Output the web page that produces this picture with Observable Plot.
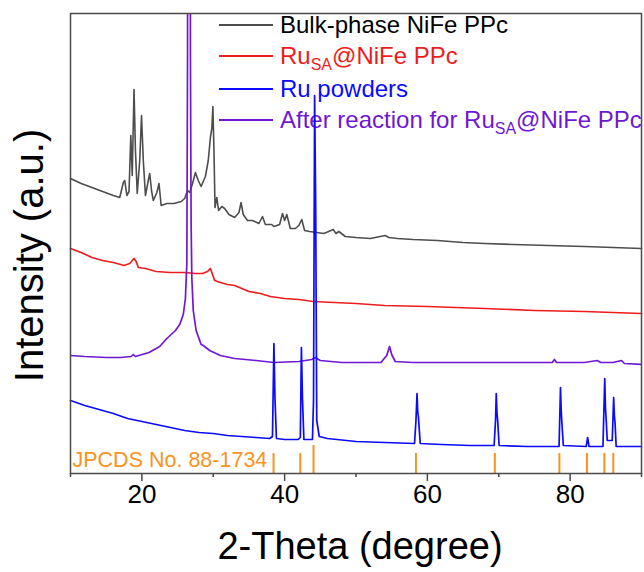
<!DOCTYPE html>
<html><head><meta charset="utf-8">
<script src="https://cdn.jsdelivr.net/npm/d3@7"></script>
<script src="https://cdn.jsdelivr.net/npm/@observablehq/plot@0.6"></script>
<style>
body{margin:0;background:#fff;font-family:"Liberation Sans",Arial,sans-serif;}
#wrap{position:relative;width:644px;height:572px;}
#legend{position:absolute;left:0;top:0;z-index:0;}
#chart{position:absolute;left:0;top:0;z-index:1;}
.row{position:absolute;left:219px;display:flex;align-items:center;white-space:nowrap;font-size:24px;line-height:1;transform:translateY(-50%);}
.row .ln{display:inline-block;width:54px;height:2px;margin-right:7px;}
.row sub{font-size:16px;vertical-align:-6px;line-height:0;}
</style></head><body>
<div id="wrap"><div id="legend"></div><div id="chart"></div></div>
<script>
// Series names and colours
const seriesNames = ["Bulk-phase NiFe PPc", "Ru<sub>SA</sub>@NiFe PPc", "Ru powders", "After reaction for Ru<sub>SA</sub>@NiFe PPc"];
const seriesColors = ["#4d4d4d", "#ee1c1c", "#0a0aff", "#6f17d4"];
const legendTextColors = ["#000000", "#ee1c1c", "#0a0aff", "#6f17d4"];
const refColor = "#f7931e";
const refLabel = "JPCDS No. 88-1734";
const xTitle = "2-Theta (degree)";
const yTitle = "Intensity (a.u.)";
const majorTicks = [20, 40, 60, 80];
const minorTicks = [10, 30, 50, 70, 90];

// Bulk-phase NiFe PPc (2θ, intensity a.u.)
const bulkTheta = [10,11.5,13,14.5,16,16.9,17.4,17.6,17.9,18.2,18.45,18.65,18.9,19.1,19.35,19.7,19.95,20.2,20.5,20.9,21.1,21.35,21.6,22.1,22.4,22.7,23.5,24.5,25.5,26,26.4,26.7,27.1,27.5,27.9,28.3,28.9,29.3,29.6,29.8,29.95,30.1,30.25,30.5,30.75,31.2,31.6,32.2,33,33.6,33.9,34.2,34.8,35.5,36.4,36.9,37.3,38.2,38.5,39.3,39.7,40,40.3,40.8,41.5,42,42.4,42.8,43.5,44.5,45.5,46.5,46.8,47.2,47.6,48.5,50,52,54.1,54.6,55.8,58,61.4,65,68,72,77,82,86,90];
const bulkI = [295,290,286,282,278,276,291,293,278,282,338,298,384,323,280,313,358,313,278,293,300,283,273,281,290,268,270,270,272,275,283,281,290,301,293,287,297,313,336,345,367,323,266,276,263,267,265,259,256,261,271,259,253,253,250,257,249,249,247,249,260,253,259,245,245,248,254,243,242,241,240,243,244,240,242,237,236,235,238,236,235,234,233,231,230,229,228,227,226,225];

// Ru_SA@NiFe PPc
const ruSATheta = [10,11.5,13,14.5,16,17.5,18.3,18.9,19.2,19.5,20.5,22,24,26,27.5,28.5,29.2,29.6,29.9,30.2,31,32,33,34,35,36.6,38,40,42,44,47,50,54,60,68,75,82,90];
const ruSAI = [225,221,216,213,211,208,210,215,212,206,205,202,201,201,200,200,202,205,199,193,191,189,188,185,182,180,177,175,174,172,171,170,168,167,165,163,162,160];

// Ru powders
const ruTheta = [10,12,14,16,18,20,22,24,26,28,30,32,34,36,37.9,38.3,38.5,38.65,38.85,40,41.9,42.2,42.35,42.5,42.7,43.9,44.05,44.2,44.35,44.5,44.85,46,50,54,58.2,58.4,58.55,58.65,58.75,59,62,66,69.35,69.55,69.65,69.75,69.85,70.05,74,78.45,78.65,78.75,78.85,79.05,82.25,82.45,82.65,84.6,84.85,84.95,85.05,85.2,85.9,86.1,86.2,86.3,86.45,90];
const ruI = [73,68,64,60,55,52,49,46,43,41,40,38,37,36,35,37,130,75,35,34,34,36,126,75,34,34,73,378,270,53,37,35,32,31,30,53,80,62,56,30,29,28,28,53,80,61,53,28,27,27,86,63,50,28,27,36,27,27,95,66,54,33,33,76,58,50,27,27];

// After reaction for Ru_SA@NiFe PPc (main peak runs far above the frame)
const afterTheta = [10,12,15,17,18.5,18.8,19.1,21,22.5,23.5,23.8,24.7,25.3,25.8,26.1,26.3,26.4,26.45,26.75,26.8,26.9,27.0,27.2,27.6,28.3,28.6,29.5,31,33,36,38.5,42,43.8,44.3,45,48,51,53.5,54.3,54.7,55,55.5,58,62,66,72,77.5,77.8,78.1,82,83.8,84.3,86,87.2,87.6,90];
const afterI = [118,117,116,116,117,119,117,121,127,135,137,143,149,159,175,210,420,900,900,420,250,195,163,143,129,128,123,118,115,113,111,112,114,116,113,111,111,111,118,127,119,112,111,111,111,111,111,114,111,111,113,111,111,113,110,109];

// Reference pattern ticks (JPCDS 88-1734)
const refTheta = [38.45, 42.2, 44.05, 58.4, 69.45, 78.5, 82.35, 84.8, 86.05];
const refHeight = [20, 20, 28, 20, 20, 20, 20, 20, 20];

const rows = (t, v) => t.map((x, i) => ({x, y: v[i]}));
const refRows = refTheta.map((x, i) => ({x, h: refHeight[i]}));
const frameColor = "#4a4a4a";

const chart = Plot.plot({
  width: 644, height: 572,
  marginLeft: 70, marginRight: 3, marginTop: 13, marginBottom: 99,
  style: {fontFamily: "'Liberation Sans', Arial, sans-serif", background: "transparent", overflow: "visible"},
  x: {domain: [10, 90], label: null},
  y: {domain: [0, 460], axis: null, label: null},
  marks: [
    Plot.line(rows(bulkTheta, bulkI), {x: "x", y: "y", stroke: seriesColors[0], strokeWidth: 1.6}),
    Plot.line(rows(ruSATheta, ruSAI), {x: "x", y: "y", stroke: seriesColors[1], strokeWidth: 1.7}),
    Plot.line(rows(afterTheta, afterI), {x: "x", y: "y", stroke: seriesColors[3], strokeWidth: 1.7, clip: true}),
    Plot.line(rows(ruTheta, ruI), {x: "x", y: "y", stroke: seriesColors[2], strokeWidth: 1.7}),
    Plot.ruleX(refRows, {x: "x", y1: 0, y2: "h", stroke: refColor, strokeWidth: 2}),
    Plot.text([refLabel], {frameAnchor: "bottom-left", dx: 2, dy: -7, textAnchor: "start", lineAnchor: "bottom", fill: refColor, fontSize: 21.5}),
    Plot.axisX(majorTicks, {tickSize: 8, tickPadding: 3, fontSize: 26, stroke: frameColor, strokeWidth: 1.5, fill: "#000", label: null}),
    Plot.axisX(minorTicks, {tickSize: 4, tickFormat: () => "", stroke: frameColor, strokeWidth: 1.5, label: null}),
    Plot.frame({stroke: frameColor, strokeWidth: 1.5}),
    Plot.text([xTitle], {frameAnchor: "bottom", dx: 4, dy: 73, fontSize: 38, textAnchor: "middle", lineAnchor: "middle", fill: "#000"}),
    Plot.text([yTitle], {frameAnchor: "left", dx: -40, dy: 12, rotate: -90, fontSize: 40, textAnchor: "middle", lineAnchor: "middle", fill: "#000"})
  ]
});
document.getElementById("chart").appendChild(chart);

// Legend (drawn beneath the SVG, as in the original)
const legendRowY = [25, 56, 89, 120];
const legend = document.getElementById("legend");
seriesNames.forEach((name, i) => {
  const row = document.createElement("div");
  row.className = "row";
  row.style.top = legendRowY[i] + "px";
  row.innerHTML = `<span class="ln" style="background:${seriesColors[i]}"></span><span style="color:${legendTextColors[i]}">${name}</span>`;
  legend.appendChild(row);
});
</script>
</body></html>
